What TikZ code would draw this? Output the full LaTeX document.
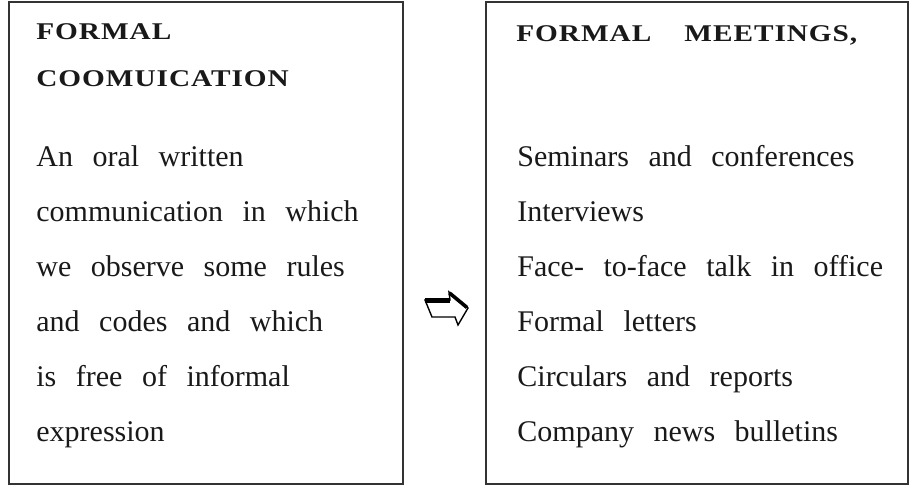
\documentclass[tikz,border=0pt]{standalone}
\usepackage{fontspec}
\setmainfont{Liberation Serif}
\newfontfamily\headfont[FakeStretch=1.22,LetterSpace=4,WordSpace=2]{Liberation Serif}
\newfontfamily\bodyfont[WordSpace=2.6]{Liberation Serif}
\usetikzlibrary{positioning}

\begin{document}
\begin{tikzpicture}
		[x=0.5pt,y=-0.5pt,
		panel/.style ={rectangle, draw=black!80, line width=0.75pt, anchor=north west, inner sep=0pt, minimum height=241pt},
		headtxt/.style ={anchor=base west, inner sep=0pt, align=left, text=black!90,
		font=\headfont\fontsize{12}{23.5}\selectfont\bfseries},
		bodytxt/.style ={anchor=base west, inner sep=0pt, align=left, text=black!90,
		font=\bodyfont\fontsize{15}{27.5}\selectfont}]
		\useasboundingbox (0,0) rectangle (910,487);

		\node[panel, minimum width=197pt] (left) at (8,1) {};
		\node[panel, minimum width=211pt] (right) at (485,1) {};

		% text nodes sit on the baseline of their last line
		\node[headtxt] (lhead) at (36,86) {FORMAL\\COOMUICATION};
		\node[headtxt] (rhead) at (516,41) {FORMAL \ MEETINGS,};

		\node[bodytxt] (lbody) at (36,441) {An oral written\\communication in which\\we observe some rules\\and codes and which\\is free of informal\\expression};
		\node[bodytxt] (rbody) at (517,441) {Seminars and conferences\\Interviews\\Face- to-face talk in office\\Formal letters\\Circulars and reports\\Company news bulletins};

		% hollow arrow between the panels
		\draw[line width=0.7pt, line join=miter, fill=white]
		(425,300) -- (450,300) -- (449,292) -- (468,308) -- (458,325) -- (455,317) -- (432,317) -- cycle;
		\draw[line width=2.2pt, line cap=butt]
		(425,300.5) -- (450,300.5);
		\draw[line width=1.8pt]
		(449.5,293) -- (467,307.5);
	\end{tikzpicture}
\end{document}
